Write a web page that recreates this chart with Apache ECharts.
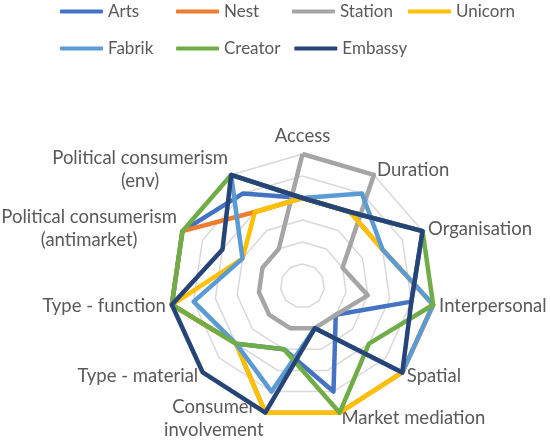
<!DOCTYPE html>
<html>
<head>
<meta charset="utf-8">
<script src="https://cdn.jsdelivr.net/npm/echarts@6/dist/echarts.min.js"></script>
<style>
  html, body { margin: 0; padding: 0; background: #fff; }
  #chart { width: 550px; height: 441px; }
</style>
</head>
<body>
<div id="chart"></div>
<script>
// indicators, clockwise from the top
const categories = [
  'Access', 'Duration', 'Organisation', 'Interpersonal', 'Spatial',
  'Market mediation', 'Consumer\ninvolvement', 'Type - material', 'Type - function',
  'Political consumerism\n(antimarket)', 'Political consumerism\n(env)'
]
const maxValue = 6

const seriesNames = ['Arts', 'Nest', 'Station', 'Unicorn', 'Fabrik', 'Creator', 'Embassy']
const arts    = [4, 4, 6, 5, 2, 5, 3, 4, 6, 6, 5]
const nest    = [4, 4, 4, 6, 6, 6, 6, 4, 6, 6, 4]
const station = [6, 6, 2, 3, 2, 2, 2, 2, 2, 2, 2]
const unicorn = [4, 4, 4, 6, 6, 6, 6, 4, 6, 3, 4]
const fabrik  = [4, 5, 4, 6, 6, 2, 5, 4, 5, 3, 6]
const creator = [4, 4, 6, 6, 4, 6, 3, 4, 6, 6, 6]
const embassy = [4, 4, 6, 5, 6, 2, 6, 6, 6, 4, 6]
const seriesValues = [arts, nest, station, unicorn, fabrik, creator, embassy]

const colors = ['#4472C4', '#ED7D31', '#A5A5A5', '#FFC000', '#5B9BD5', '#70AD47', '#264478']

const FONT = 'Lato'
const TEXT = '#595959'

// echarts lays indicators out counter-clockwise, so flip everything after the first
const flip = arr => [arr[0], ...arr.slice(1).reverse()]

const chart = echarts.init(document.getElementById('chart'))

const option = {
  animation: false,
  color: colors,
  legend: {
    left: 60,
    top: 0,
    width: 470,
    padding: 0,
    itemWidth: 43,
    itemHeight: 4,
    itemGap: 14,
    icon: 'roundRect',
    data: seriesNames,
    textStyle: {
      color: TEXT,
      fontFamily: FONT,
      fontSize: 17,
      width: 54,
      lineHeight: 23
    }
  },
  radar: {
    center: [302.5, 286],
    radius: 132,
    startAngle: 90,
    shape: 'polygon',
    splitNumber: 6,
    nameGap: 6,
    indicator: flip(categories).map(name => ({ name, min: 0, max: maxValue })),
    axisName: {
      color: TEXT,
      fontFamily: FONT,
      fontSize: 18.5,
      formatter: name => name.split('\n').map(s => '{c|' + s + '}').join('\n'),
      rich: {
        c: { align: 'center', color: TEXT, fontFamily: FONT, fontSize: 18.5, lineHeight: 23 }
      }
    },
    axisLine: { show: false },
    axisTick: { show: false },
    splitArea: { show: false },
    splitLine: { lineStyle: { color: '#D9D9D9', width: 1.5 } }
  },
  series: seriesNames.map((name, i) => ({
    name,
    type: 'radar',
    symbol: 'none',
    lineStyle: { width: 4.5, color: colors[i] },
    itemStyle: { color: colors[i] },
    data: [{ value: flip(seriesValues[i]), name }]
  }))
}

chart.setOption(option)
</script>
</body>
</html>
